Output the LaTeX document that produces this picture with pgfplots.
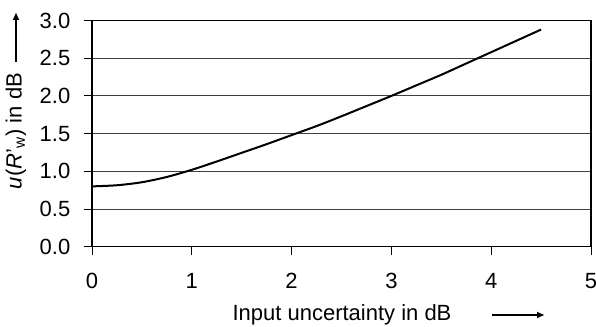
\documentclass[border=0pt]{standalone}
\usepackage{fontspec}
\setmainfont{Liberation Sans}
\usepackage{pgfplots}
\pgfplotsset{compat=1.18}
\usetikzlibrary{arrows.meta}
\begin{document}
\fontsize{11bp}{13bp}\selectfont
\begin{tikzpicture}
\begin{axis}[
  scale only axis,
  width=249.5bp, height=113.1bp,
  xmin=0, xmax=5, ymin=0, ymax=3,
  xtick={0,1,2,3,4,5},
  ytick={0,0.5,1,1.5,2,2.5,3},
  /pgf/number format/assume math mode=true,
  yticklabel style={xshift=-3bp,/pgf/number format/.cd,fixed,fixed zerofill,precision=1},
  xticklabel style={yshift=-5.5bp},
  xtick pos=bottom, ytick pos=left,
  tick align=outside,
  major tick length=4bp,
  tick style={black, line width=0.5bp},
  ymajorgrids,
  grid style={black!75, line width=0.5bp},
  axis line style={black, line width=0.6bp},
  clip=false,
]
\addplot[black, line width=1bp, smooth, tension=0.5] coordinates {
(0,0.80) (0.25,0.815) (0.5,0.855) (0.75,0.925) (1.0,1.02) (1.25,1.13) (1.5,1.245)
(1.75,1.36) (2.0,1.48) (2.25,1.60) (2.5,1.73) (2.75,1.865) (3.0,2.00)
(3.25,2.14) (3.5,2.28) (3.75,2.43) (4.0,2.58) (4.25,2.73) (4.5,2.88)
};
\coordinate (O) at (rel axis cs:0,0);
\end{axis}
\node[rotate=90] at ([xshift=-38bp,yshift=57.85bp]O) {\textit{u}(\textit{R}'\textsubscript{w}) in dB};
\draw[-{Latex[length=4bp,width=3.5bp]}, line width=1bp] ([xshift=-38bp,yshift=92.35bp]O) -- ([xshift=-38bp,yshift=117.35bp]O);
\node at ([xshift=125bp,yshift=-34.15bp]O) {Input uncertainty in dB};
\draw[-{Latex[length=4bp,width=3.5bp]}, line width=1bp] ([xshift=200bp,yshift=-34.15bp]O) -- ([xshift=226.5bp,yshift=-34.15bp]O);
\pgfresetboundingbox
\path[use as bounding box] ([xshift=-46bp,yshift=-40.15bp]O) rectangle ([xshift=252bp,yshift=123.35bp]O);
\end{tikzpicture}
\end{document}
